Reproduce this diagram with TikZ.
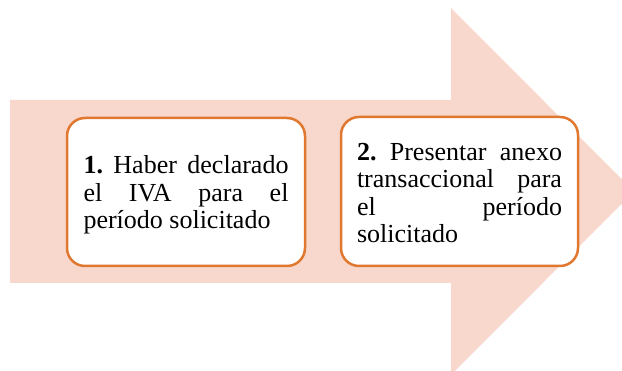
\documentclass[tikz,border=0pt]{standalone}
\usepackage{fontspec}
\setmainfont{Liberation Serif}
\definecolor{arrowfill}{HTML}{F8D7CC}
\definecolor{boxline}{HTML}{E0782F}
\newcommand\stepboxfont{\fontsize{26pt}{27.5pt}\selectfont\frenchspacing\hyphenpenalty=10000 \exhyphenpenalty=10000 \tolerance=10000 }
\tikzset{
  stepbox/.style={draw=boxline, line width=2.5pt, fill=white, rounded corners=18pt},
  steptext/.style={text width=205pt, align=justify, inner sep=0pt, font=\stepboxfont}
}
\begin{document}
\begin{tikzpicture}[x=1pt,y=-1pt]
\useasboundingbox (0,0) rectangle (622,371);
\clip (0,0) rectangle (622,371);
\fill[arrowfill] (10,100) -- (451,100) -- (451,8) -- (634,191.5) -- (451,375) -- (451,283) -- (10,283) -- cycle;
\node[stepbox, minimum width=238pt, minimum height=148pt] (b1) at (186,192) {};
\node[steptext, yshift=-3pt] (t1) at (b1.center)
  {\textbf{1.} Haber declarado\linebreak el IVA para el\linebreak período solicitado};
\node[stepbox, minimum width=237pt, minimum height=149pt] (b2) at (459.5,191.5) {};
\node[steptext, yshift=-1.5pt] (t2) at (b2.center)
  {\textbf{2.} Presentar anexo\linebreak transaccional para\linebreak el período\linebreak solicitado};
\end{tikzpicture}
\end{document}
